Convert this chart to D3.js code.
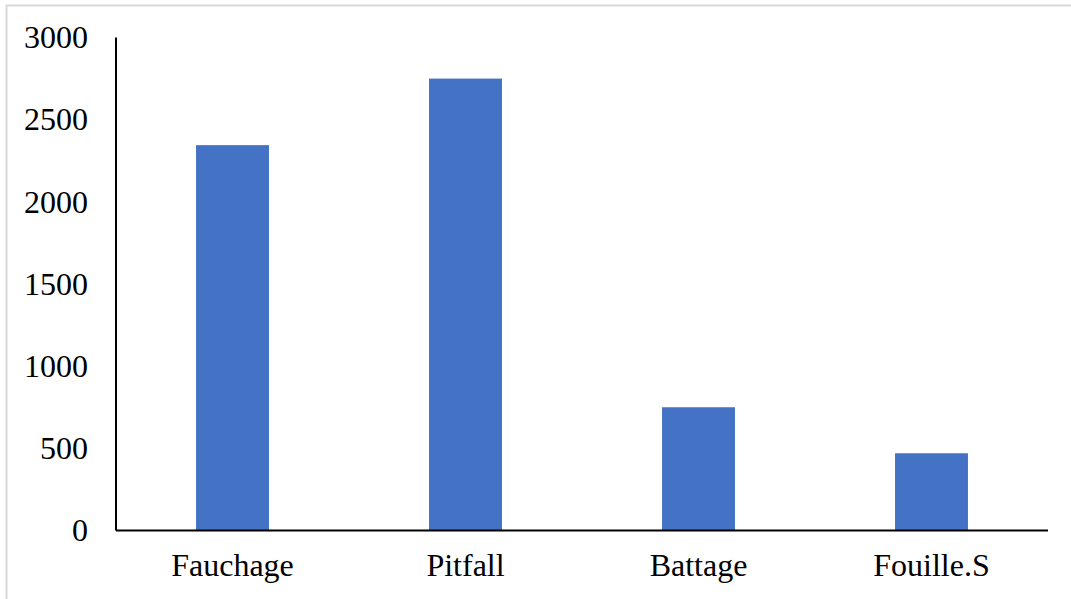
<!DOCTYPE html>
<html>
<head>
<meta charset="utf-8">
<script src="https://cdn.jsdelivr.net/npm/d3@7"></script>
<style>
  html, body { margin: 0; padding: 0; background: #fff; }
  svg { display: block; }
  text { font-family: "Liberation Serif", "Times New Roman", serif; fill: #000; }
</style>
</head>
<body>
<svg id="chart" width="1071" height="599"></svg>
<script>
// Sampling methods and number of specimens collected
const categories = ["Fauchage", "Pitfall", "Battage", "Fouille.S"];
const counts = [2345, 2750, 750, 470];
const yTicks = [0, 500, 1000, 1500, 2000, 2500, 3000];

const W = 1071, H = 599;
const plot = { left: 116, right: 1048, top: 37.5, bottom: 530.5 };

const svg = d3.select("#chart");

// chart frame (only top and left edges fall inside the window)
svg.append("rect")
  .attr("x", 6.5).attr("y", 5.5)
  .attr("width", W + 10).attr("height", H + 10)
  .attr("fill", "none")
  .attr("stroke", "#d9d9d9")
  .attr("stroke-width", 2);

const x = d3.scaleBand()
  .domain(categories)
  .range([plot.left, plot.right])
  .paddingInner(0.687)
  .paddingOuter(0.3435);

const y = d3.scaleLinear()
  .domain([0, 3000])
  .range([plot.bottom, plot.top]);

// bars
svg.append("g")
  .selectAll("rect")
  .data(categories)
  .join("rect")
  .attr("x", d => x(d))
  .attr("width", x.bandwidth())
  .attr("y", (d, i) => y(counts[i]))
  .attr("height", (d, i) => y(0) - y(counts[i]))
  .attr("fill", "#4472c4");

// y axis
const yAxis = svg.append("g")
  .attr("transform", `translate(${plot.left},0)`)
  .call(d3.axisLeft(y).tickValues(yTicks).tickSize(0).tickPadding(28).tickFormat(d3.format("d")));
yAxis.select(".domain").attr("stroke", "#000").attr("stroke-width", 2)
  .attr("d", `M0,${plot.top}V${plot.bottom}`);
yAxis.selectAll("text")
  .style("font-family", '"Liberation Serif", "Times New Roman", serif')
  .style("font-size", "32px")
  .attr("fill", "#000");

// x axis
const xAxis = svg.append("g")
  .attr("transform", `translate(0,${plot.bottom})`)
  .call(d3.axisBottom(x).tickSize(0).tickPadding(23));
xAxis.select(".domain").attr("stroke", "#000").attr("stroke-width", 2)
  .attr("d", `M${plot.left},0H${plot.right}`);
xAxis.selectAll("text")
  .style("font-family", '"Liberation Serif", "Times New Roman", serif')
  .style("font-size", "32px")
  .attr("fill", "#000");
</script>
</body>
</html>
